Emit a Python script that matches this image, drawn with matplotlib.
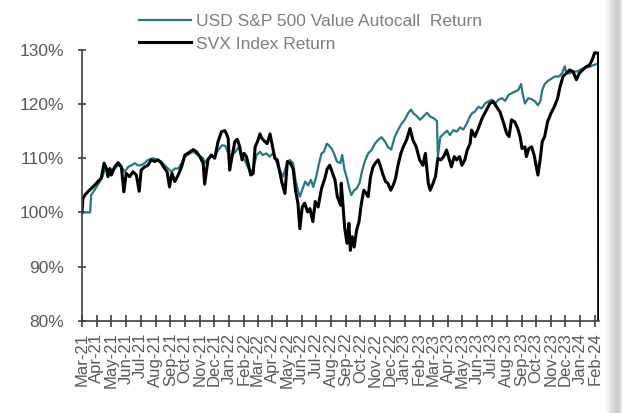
import matplotlib

matplotlib.use("Agg")
import matplotlib.dates as mdates
import matplotlib.pyplot as plt
import pandas as pd
from matplotlib.patches import Rectangle

# values (percent of start)
svx_dates = [
    "2021-03-01", "2021-03-03", "2021-03-07", "2021-03-13", "2021-03-20", "2021-03-27",
    "2021-04-03", "2021-04-10", "2021-04-16", "2021-04-21", "2021-04-24", "2021-04-28",
    "2021-05-01", "2021-05-08", "2021-05-15", "2021-05-22", "2021-05-27", "2021-06-01",
    "2021-06-08", "2021-06-15", "2021-06-22", "2021-06-28", "2021-07-02", "2021-07-09",
    "2021-07-16", "2021-07-23", "2021-07-30", "2021-08-06", "2021-08-13", "2021-08-20",
    "2021-08-25", "2021-08-30", "2021-09-04", "2021-09-10", "2021-09-17", "2021-09-24",
    "2021-10-01", "2021-10-07", "2021-10-18", "2021-10-25", "2021-11-01", "2021-11-08",
    "2021-11-11", "2021-11-18", "2021-11-25", "2021-12-02", "2021-12-09", "2021-12-16",
    "2021-12-23", "2021-12-26", "2021-12-30", "2022-01-02", "2022-01-07", "2022-01-13",
    "2022-01-18", "2022-01-23", "2022-01-28", "2022-02-01", "2022-02-06", "2022-02-11",
    "2022-02-15", "2022-02-20", "2022-02-24", "2022-03-01", "2022-03-06", "2022-03-10",
    "2022-03-16", "2022-03-21", "2022-03-27", "2022-03-31", "2022-04-06", "2022-04-11",
    "2022-04-16", "2022-04-21", "2022-04-27", "2022-05-02", "2022-05-08", "2022-05-14",
    "2022-05-19", "2022-05-24", "2022-05-28", "2022-06-02", "2022-06-07", "2022-06-13",
    "2022-06-18", "2022-06-24", "2022-06-29", "2022-07-05", "2022-07-12", "2022-07-19",
    "2022-07-24", "2022-07-29", "2022-08-03", "2022-08-09", "2022-08-14", "2022-08-21",
    "2022-08-22", "2022-08-26", "2022-08-29", "2022-09-03", "2022-09-07", "2022-09-10",
    "2022-09-14", "2022-09-18", "2022-09-23", "2022-09-28", "2022-10-03", "2022-10-08",
    "2022-10-13", "2022-10-17", "2022-10-22", "2022-10-27", "2022-11-01", "2022-11-07",
    "2022-11-11", "2022-11-16", "2022-11-22", "2022-11-27", "2022-12-03", "2022-12-08",
    "2022-12-13", "2022-12-18", "2022-12-24", "2022-12-29", "2023-01-05", "2023-01-12",
    "2023-01-18", "2023-01-25", "2023-02-01", "2023-02-08", "2023-02-13", "2023-02-19",
    "2023-02-23", "2023-03-01", "2023-03-06", "2023-03-11", "2023-03-17", "2023-03-23",
    "2023-03-29", "2023-04-03", "2023-04-08", "2023-04-14", "2023-04-19", "2023-04-25",
    "2023-04-30", "2023-05-06", "2023-05-11", "2023-05-17", "2023-05-20", "2023-05-27",
    "2023-06-03", "2023-06-11", "2023-06-20", "2023-06-27", "2023-07-04", "2023-07-11",
    "2023-07-18", "2023-07-25", "2023-08-01", "2023-08-06", "2023-08-11", "2023-08-18",
    "2023-08-24", "2023-08-29", "2023-09-02", "2023-09-08", "2023-09-11", "2023-09-16",
    "2023-09-22", "2023-09-27", "2023-10-01", "2023-10-05", "2023-10-10", "2023-10-14",
    "2023-10-19", "2023-10-25", "2023-11-01", "2023-11-08", "2023-11-15", "2023-11-20",
    "2023-11-26", "2023-12-03", "2023-12-10", "2023-12-17", "2023-12-24", "2023-12-30",
    "2024-01-06", "2024-01-13", "2024-01-20", "2024-01-26", "2024-01-31", "2024-02-06",
    "2024-02-08", "2024-02-09",
]
svx = [
    100.0, 102.6, 103.2, 103.8, 104.4, 105.0,
    105.7, 106.3, 109.1, 108.1, 106.6, 108.1,
    106.9, 108.4, 109.2, 108.4, 103.8, 107.2,
    106.6, 107.5, 106.9, 103.9, 107.8, 108.4,
    108.7, 109.7, 109.4, 109.7, 109.1, 108.1,
    107.5, 104.7, 107.2, 105.7, 106.9, 108.4,
    110.6, 110.9, 111.6, 111.2, 110.3, 109.1,
    105.2, 109.7, 110.6, 110.0, 113.1, 114.9,
    115.1, 114.6, 113.7, 107.8, 110.3, 113.1,
    113.5, 112.1, 109.7, 110.9, 110.3, 108.4,
    106.9, 107.2, 112.1, 113.1, 114.5, 113.7,
    113.1, 112.7, 114.5, 112.7, 110.0, 109.7,
    107.5, 105.4, 103.5, 109.4, 109.1, 108.1,
    104.1, 101.7, 97.0, 101.0, 101.7, 100.1,
    100.7, 98.3, 102.0, 101.0, 104.4, 106.3,
    108.1, 108.7, 107.5, 106.0, 102.9, 101.3,
    105.4, 101.0, 97.3, 94.3, 98.0, 93.0,
    95.5, 93.6, 96.7, 98.3, 101.7, 104.1,
    103.5, 102.9, 106.6, 108.4, 109.1, 109.7,
    108.7, 107.2, 105.7, 105.4, 104.1, 105.0,
    106.3, 108.7, 110.9, 112.1, 113.4, 115.5,
    113.4, 112.1, 109.7, 108.7, 110.9, 105.4,
    104.1, 105.4, 106.6, 110.0, 109.7, 110.3,
    111.5, 110.0, 108.4, 110.3, 109.7, 110.3,
    108.7, 109.7, 111.5, 112.7, 115.2, 114.0,
    115.5, 117.4, 118.9, 120.1, 120.5, 119.5,
    118.6, 116.7, 114.6, 114.0, 117.1, 116.7,
    115.5, 114.0, 111.8, 112.1, 110.3, 111.8,
    112.1, 110.6, 108.7, 106.9, 110.0, 113.1,
    114.0, 116.7, 118.3, 119.5, 121.1, 123.2,
    125.1, 125.7, 126.3, 126.0, 124.5, 125.7,
    126.3, 126.9, 127.2, 128.2, 129.5, 129.4,
    129.4, 0.0,
]

autocall_dates = [
    "2021-03-01", "2021-03-18", "2021-03-20", "2021-03-27", "2021-04-07", "2021-04-14",
    "2021-04-17", "2021-04-24", "2021-05-01", "2021-05-08", "2021-05-15", "2021-05-22",
    "2021-05-29", "2021-06-05", "2021-06-12", "2021-06-19", "2021-06-25", "2021-07-02",
    "2021-07-09", "2021-07-16", "2021-07-27", "2021-08-06", "2021-08-13", "2021-08-20",
    "2021-08-27", "2021-09-03", "2021-09-10", "2021-09-17", "2021-09-24", "2021-10-01",
    "2021-10-11", "2021-10-18", "2021-10-28", "2021-11-08", "2021-11-11", "2021-11-18",
    "2021-11-25", "2021-12-02", "2021-12-09", "2021-12-17", "2021-12-24", "2021-12-30",
    "2022-01-02", "2022-01-07", "2022-01-14", "2022-01-21", "2022-01-26", "2022-02-02",
    "2022-02-09", "2022-02-15", "2022-02-20", "2022-02-27", "2022-03-06", "2022-03-12",
    "2022-03-19", "2022-03-26", "2022-04-02", "2022-04-09", "2022-04-16", "2022-04-23",
    "2022-04-30", "2022-05-07", "2022-05-14", "2022-05-19", "2022-05-24", "2022-05-28",
    "2022-06-03", "2022-06-08", "2022-06-14", "2022-06-20", "2022-06-25", "2022-07-01",
    "2022-07-06", "2022-07-12", "2022-07-17", "2022-07-23", "2022-07-27", "2022-08-02",
    "2022-08-07", "2022-08-13", "2022-08-20", "2022-08-24", "2022-08-29", "2022-09-03",
    "2022-09-07", "2022-09-12", "2022-09-18", "2022-09-23", "2022-09-29", "2022-10-04",
    "2022-10-10", "2022-10-17", "2022-10-24", "2022-10-31", "2022-11-07", "2022-11-14",
    "2022-11-21", "2022-11-27", "2022-12-04", "2022-12-11", "2022-12-18", "2022-12-25",
    "2023-01-01", "2023-01-08", "2023-01-14", "2023-01-19", "2023-01-26", "2023-02-02",
    "2023-02-09", "2023-02-16", "2023-02-23", "2023-03-02", "2023-03-09", "2023-03-11",
    "2023-03-16", "2023-03-23", "2023-03-30", "2023-04-05", "2023-04-12", "2023-04-19",
    "2023-04-26", "2023-05-03", "2023-05-10", "2023-05-17", "2023-05-22", "2023-05-27",
    "2023-06-03", "2023-06-10", "2023-06-17", "2023-06-24", "2023-07-01", "2023-07-08",
    "2023-07-15", "2023-07-22", "2023-07-29", "2023-08-05", "2023-08-11", "2023-08-18",
    "2023-08-25", "2023-08-31", "2023-09-03", "2023-09-08", "2023-09-15", "2023-09-22",
    "2023-09-29", "2023-10-05", "2023-10-10", "2023-10-14", "2023-10-19", "2023-10-26",
    "2023-11-02", "2023-11-09", "2023-11-18", "2023-11-24", "2023-11-30", "2023-12-03",
    "2023-12-10", "2023-12-17", "2023-12-24", "2023-12-31", "2024-01-07", "2024-01-14",
    "2024-01-21", "2024-01-28", "2024-02-09",
]
autocall = [
    100.0, 100.0, 103.2, 104.1, 105.7, 106.9,
    108.1, 107.5, 107.8, 108.1, 108.7, 108.4,
    107.5, 108.4, 108.7, 109.1, 108.7, 108.7,
    109.1, 109.7, 110.0, 109.7, 109.4, 108.7,
    108.1, 107.5, 108.1, 108.1, 109.1, 110.3,
    110.9, 111.2, 110.6, 110.0, 109.1, 110.0,
    110.3, 110.3, 111.5, 112.4, 112.3, 110.9,
    108.1, 110.6, 111.2, 112.1, 110.3, 109.7,
    108.4, 107.2, 108.1, 110.6, 111.2, 110.6,
    110.9, 110.3, 110.9, 109.4, 107.8, 106.6,
    108.7, 109.7, 109.1, 106.0, 104.1, 102.9,
    104.4, 105.7, 105.0, 106.0, 104.7, 106.6,
    108.7, 110.9, 111.2, 112.7, 112.4, 111.8,
    110.9, 109.4, 109.1, 110.6, 107.8, 106.3,
    104.7, 103.2, 104.1, 104.4, 105.4, 107.5,
    109.4, 110.9, 111.5, 112.7, 113.4, 113.9,
    113.1, 112.1, 111.6, 113.9, 115.2, 116.3,
    117.1, 118.3, 119.0, 118.3, 117.8, 117.1,
    117.7, 118.4, 117.7, 117.4, 116.9, 110.3,
    113.9, 114.5, 115.1, 114.3, 115.2, 114.9,
    115.7, 115.3, 116.4, 117.8, 118.4, 118.6,
    119.5, 119.2, 120.1, 120.5, 120.8, 120.1,
    120.8, 121.1, 120.6, 121.7, 122.0, 122.3,
    122.6, 123.7, 122.0, 120.1, 121.1, 120.9,
    120.5, 119.8, 120.5, 122.6, 123.7, 124.3,
    124.7, 125.1, 125.1, 125.7, 127.0, 125.7,
    125.7, 126.0, 126.0, 126.3, 126.6, 126.8,
    126.9, 127.2, 127.5,
]

labels = ["USD S&P 500 Value Autocall  Return", "SVX Index Return"]
y_ticks = [80, 90, 100, 110, 120, 130]

plt.rcParams["font.family"] = ["Liberation Sans", "DejaVu Sans"]
axis_grey = "#404040"
text_grey = "#595959"

fig = plt.figure(figsize=(6.22, 4.13), dpi=100)
ax = fig.add_axes([0.1318, 0.2235, 0.8320, 0.6555])

ax.plot(pd.to_datetime(autocall_dates), autocall, color="#267882", lw=1.6, label=labels[0])
ax.plot(pd.to_datetime(svx_dates), svx, color="black", lw=2.2, label=labels[1])

ax.set_xlim(pd.Timestamp("2021-03-01"), pd.Timestamp("2024-02-10"))
ax.set_ylim(80, 130)
ax.set_yticks(y_ticks)
ax.set_yticklabels([f"{v}%" for v in y_ticks])

ax.xaxis.set_major_locator(mdates.MonthLocator())
ax.xaxis.set_major_formatter(mdates.DateFormatter("%b-%y"))

for side in ["top", "right"]:
    ax.spines[side].set_visible(False)
for side in ["left", "bottom"]:
    ax.spines[side].set_color(axis_grey)
    ax.spines[side].set_linewidth(1.2)

ax.tick_params(axis="x", direction="inout", length=8, width=1.2, color=axis_grey,
               labelcolor=text_grey, labelsize=12, labelrotation=90, pad=4.5)
ax.tick_params(axis="y", direction="inout", length=6, width=1.2, color=axis_grey,
               labelcolor=text_grey, labelsize=12.5, pad=10)

leg = fig.legend(loc="upper left", bbox_to_anchor=(0.215, 0.978), frameon=False,
                 fontsize=12.5, handlelength=3.0, handletextpad=0.3,
                 labelspacing=0.4, borderaxespad=0.0, borderpad=0.3)
for t in leg.get_texts():
    t.set_color("#7F7F7F")

# soft shadow down the right edge of the panel
for i, g in enumerate(["#f4f4f4", "#e8e8e8", "#dcdcdc", "#d2d2d2", "#cccccc"]):
    fig.patches.append(Rectangle((0.974 + i * 0.0045, 0.0), 0.0045, 1.0,
                                 transform=fig.transFigure, color=g, zorder=0))
fig.patches.append(Rectangle((0.9965, 0.0), 0.0035, 1.0,
                             transform=fig.transFigure, color="#e4e4e4", zorder=0))

fig.savefig("out.png", dpi=100)
